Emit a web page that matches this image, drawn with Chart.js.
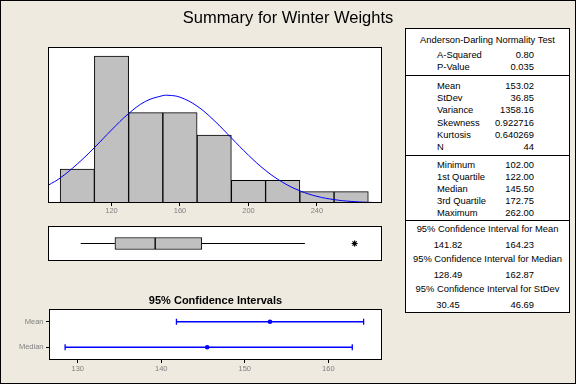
<!DOCTYPE html>
<html>
<head>
<meta charset="utf-8">
<script src="https://cdn.jsdelivr.net/npm/chart.js@4.4.0/dist/chart.umd.min.js"></script>
<style>
  body { margin: 0; }
  #page {
    position: relative; width: 576px; height: 384px; overflow: hidden;
    background: #EEEAE0; box-shadow: inset 0 0 0 1px #000;
    font-family: "Liberation Sans", Arial, sans-serif;
  }
  canvas { position: absolute; left: 0; top: 0; }
  .t { position: absolute; white-space: nowrap; line-height: 12px; font-size: 9.4px; color: #000; }
  #title { position: absolute; left: 0; width: 576px; top: 7px; line-height: 20px; text-align: center; font-size: 16.5px; }
  #ciTitle { position: absolute; left: 49px; width: 333px; top: 294px; line-height: 13px; text-align: center; font-size: 11px; font-weight: bold; }
  #stats { position: absolute; left: 405px; top: 28px; width: 165px; height: 285px; box-sizing: border-box; border: 1px solid #000; background: #fff; }
  .rule { position: absolute; left: 405px; width: 165px; height: 1px; background: #000; }
</style>
</head>
<body>
<div id="page">
  <canvas id="hist" width="576" height="384"></canvas>
  <canvas id="box" width="576" height="384"></canvas>
  <canvas id="ci" width="576" height="384"></canvas>
  <div id="title">Summary for Winter Weights</div>
  <div id="ciTitle">95% Confidence Intervals</div>
  <div id="stats"></div>
</div>
<script>
// Histogram: bins of width 20 from 90 to 270
const binCenters = [100, 120, 140, 160, 180, 200, 220, 240, 260];
const binCounts = [3, 13, 8, 8, 6, 2, 2, 1, 1];
const histTicks = [120, 160, 200, 240];

// fitted normal curve
const curveX = [83, 90, 100, 110, 120, 130, 140, 150, 153, 160, 170, 180, 190, 200, 210, 220, 230, 240, 250, 260, 270, 278];
const curveY = [1.57, 2.21, 3.45, 4.90, 6.46, 7.91, 9.00, 9.50, 9.53, 9.36, 8.57, 7.29, 5.76, 4.23, 2.88, 1.83, 1.08, 0.59, 0.30, 0.14, 0.06, 0.03];

// boxplot
const whiskers = [102, 233];
const quartiles = [122, 145.5, 172.75];
const outliers = [262];

// confidence intervals
const ciLabels = ['Mean', 'Median'];
const ciCenter = [153.02, 145.5];
const ciLower = [141.82, 128.49];
const ciUpper = [164.23, 162.87];
const ciTicks = [130, 140, 150, 160];

// summary table
const adLabels = ['A-Squared', 'P-Value'];
const adValues = ['0.80', '0.035'];
const momentLabels = ['Mean', 'StDev', 'Variance', 'Skewness', 'Kurtosis', 'N'];
const momentValues = ['153.02', '36.85', '1358.16', '0.922716', '0.640269', '44'];
const quantLabels = ['Minimum', '1st Quartile', 'Median', '3rd Quartile', 'Maximum'];
const quantValues = ['102.00', '122.00', '145.50', '172.75', '262.00'];
const intervalTitles = ['95% Confidence Interval for Mean', '95% Confidence Interval for Median', '95% Confidence Interval for StDev'];
const intervalLow = ['141.82', '128.49', '30.45'];
const intervalHigh = ['164.23', '162.87', '46.69'];

Chart.defaults.font.family = '"Liberation Sans", Arial, sans-serif';
Chart.defaults.animation = false;
Chart.defaults.responsive = false;
Chart.defaults.plugins.legend.display = false;
Chart.defaults.plugins.tooltip.enabled = false;

// white plot area with a black frame
const framePlugin = {
  id: 'frame',
  beforeDatasetsDraw(chart) {
    const a = chart.chartArea, ctx = chart.ctx;
    ctx.save();
    ctx.fillStyle = '#fff';
    ctx.fillRect(a.left, a.top, a.right - a.left, a.bottom - a.top);
    ctx.restore();
  },
  afterDraw(chart) {
    const a = chart.chartArea, ctx = chart.ctx;
    ctx.save();
    ctx.strokeStyle = '#000';
    ctx.lineWidth = 1;
    ctx.strokeRect(a.left + 0.5, a.top + 0.5, a.right - a.left - 1, a.bottom - a.top - 1);
    ctx.restore();
  }
};

const tickFont = { size: 7.5 };
const tickColor = '#808080';

// histogram + normal curve
new Chart(document.getElementById('hist'), {
  type: 'bar',
  data: {
    datasets: [
      {
        type: 'line',
        data: curveX.map((x, i) => ({ x: x, y: curveY[i] })),
        borderColor: '#0000FF',
        borderWidth: 1,
        pointRadius: 0,
        tension: 0.4,
        order: 0
      },
      {
        data: binCenters.map((x, i) => ({ x: x, y: binCounts[i] })),
        backgroundColor: '#C0C0C0',
        borderColor: '#000',
        borderWidth: 1,
        barPercentage: 1,
        categoryPercentage: 1,
        order: 1
      }
    ]
  },
  options: {
    layout: { padding: { left: 48, right: 576 - 382, top: 47, bottom: 384 - 203 - 16 } },
    scales: {
      x: {
        type: 'linear', min: 82.9, max: 278, offset: false,
        afterBuildTicks: s => { s.ticks = histTicks.map(v => ({ value: v })); },
        afterFit: s => { s.height = 16; },
        grid: { drawOnChartArea: false, drawTicks: true, tickLength: 3, color: '#000', offset: false },
        border: { display: false },
        ticks: { color: tickColor, font: tickFont, padding: 0, maxRotation: 0 }
      },
      y: { display: false, min: 0, max: 13.8 }
    }
  },
  plugins: [framePlugin]
});

// boxplot
new Chart(document.getElementById('box'), {
  type: 'bar',
  data: {
    labels: ['W'],
    datasets: [
      { type: 'line', data: [{ x: whiskers[0], y: 'W' }, { x: quartiles[0], y: 'W' }], borderColor: '#000', borderWidth: 1, pointRadius: 0 },
      { type: 'line', data: [{ x: quartiles[2], y: 'W' }, { x: whiskers[1], y: 'W' }], borderColor: '#000', borderWidth: 1, pointRadius: 0 },
      { data: [[quartiles[0], quartiles[1]]], backgroundColor: '#C0C0C0', borderColor: '#000', borderWidth: 1, borderSkipped: false, barThickness: 12, grouped: false },
      { data: [[quartiles[1], quartiles[2]]], backgroundColor: '#C0C0C0', borderColor: '#000', borderWidth: 1, borderSkipped: false, barThickness: 12, grouped: false },
      { type: 'scatter', data: outliers.map(v => ({ x: v, y: 'W' })), pointStyle: 'star', radius: 3, borderColor: '#000', borderWidth: 1.2 }
    ]
  },
  options: {
    indexAxis: 'y',
    layout: { padding: { left: 48, right: 576 - 382, top: 226, bottom: 384 - 261 } },
    scales: {
      x: { type: 'linear', min: 82.9, max: 278, display: false, offset: false },
      y: { type: 'category', display: false, offset: true }
    }
  },
  plugins: [framePlugin]
});

// confidence interval plot
const capPoints = [];
ciLabels.forEach((lab, i) => {
  capPoints.push({ x: ciLower[i], y: lab }, { x: ciUpper[i], y: lab });
});

new Chart(document.getElementById('ci'), {
  type: 'scatter',
  data: {
    datasets: [
      ...ciLabels.map((lab, i) => ({
        type: 'line',
        data: [{ x: ciLower[i], y: lab }, { x: ciUpper[i], y: lab }],
        borderColor: '#0000FF', borderWidth: 1.3, pointRadius: 0
      })),
      { data: capPoints, pointStyle: 'line', rotation: 90, radius: 3, borderColor: '#0000FF', borderWidth: 1.3 },
      { data: ciLabels.map((lab, i) => ({ x: ciCenter[i], y: lab })), pointStyle: 'circle', radius: 2.3, backgroundColor: '#0000FF', borderColor: '#0000FF', borderWidth: 0 }
    ]
  },
  options: {
    layout: { padding: { left: 0, right: 576 - 382, top: 309, bottom: 384 - 360 - 16 } },
    scales: {
      x: {
        type: 'linear', min: 126.56, max: 166.43,
        afterBuildTicks: s => { s.ticks = ciTicks.map(v => ({ value: v })); },
        afterFit: s => { s.height = 16; },
        grid: { drawOnChartArea: false, tickLength: 3, color: '#000', offset: false },
        border: { display: false },
        ticks: { color: tickColor, font: tickFont, padding: 1, maxRotation: 0 }
      },
      y: {
        type: 'category', labels: ciLabels, offset: true,
        afterFit: s => { s.width = 49; },
        grid: { drawOnChartArea: false, tickLength: 3, color: '#000', offset: false },
        border: { display: false },
        ticks: { color: tickColor, font: tickFont, padding: 2.5 }
      }
    }
  },
  plugins: [framePlugin]
});

// summary table text
const page = document.getElementById('page');
function addText(text, y, style) {
  const d = document.createElement('div');
  d.className = 't';
  d.textContent = text;
  d.style.top = (y - 6) + 'px';
  Object.assign(d.style, style);
  page.appendChild(d);
}
function addRule(y) {
  const d = document.createElement('div');
  d.className = 'rule';
  d.style.top = y + 'px';
  page.appendChild(d);
}
function addPairs(labels, values, y0, step) {
  labels.forEach((lab, i) => {
    const y = y0 + i * step;
    addText(lab, y, { left: '437px' });
    addText(values[i], y, { right: (576 - 534) + 'px' });
  });
}

addText('Anderson-Darling Normality Test', 40, { left: '405px', width: '165px', textAlign: 'center' });
addPairs(adLabels, adValues, 54.7, 12.6);
addRule(75);
addPairs(momentLabels, momentValues, 85.7, 12.3);
addRule(155);
addPairs(quantLabels, quantValues, 165, 12.1);
addRule(220);
intervalTitles.forEach((t, i) => {
  const y = 229.3 + i * 29.9;
  addText(t, y, { left: '405px', width: '165px', textAlign: 'center' });
  addText(intervalLow[i], y + 15.6, { left: '408px', width: '80px', textAlign: 'center' });
  addText(intervalHigh[i], y + 15.6, { right: (576 - 534) + 'px' });
});
</script>
</body>
</html>
